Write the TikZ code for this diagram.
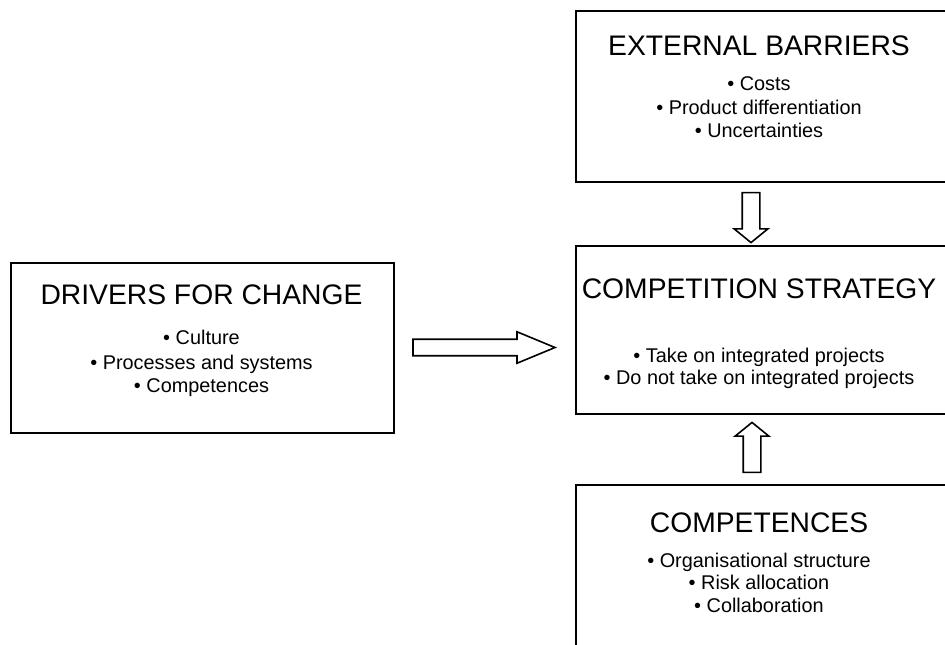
\documentclass[tikz,border=0pt]{standalone}
\usepackage{fontspec}
\setmainfont{Liberation Sans}
\usetikzlibrary{shapes.arrows}

\tikzset{every picture/.style={line width=0.75pt}}
\tikzset{
  frame/.style={draw, line width=1.4pt, anchor=north west, inner sep=0pt},
  heading/.style={anchor=base, inner sep=0.75pt, font=\fontsize{21.2}{25}\selectfont},
  points/.style={anchor=base, inner sep=0.75pt, font=\fontsize{14.9}{17.6}\selectfont},
  hollow/.style={draw, single arrow, line width=1.2pt, fill=white}
}

\begin{document}
\begin{tikzpicture}[x=0.75pt,y=0.75pt,yscale=-1,xscale=1]
\useasboundingbox (0,0) rectangle (945,644);
\clip (0,0) rectangle (945,644);

%Shape: Rectangle [id:barriers] 
\node [frame, minimum width=279pt, minimum height=128.25pt] (barriers) at (575,10) {};
%Shape: Rectangle [id:strategy] 
\node [frame, minimum width=279pt, minimum height=126pt] (strategy) at (575,245) {};
%Shape: Rectangle [id:competences] 
\node [frame, minimum width=279pt, minimum height=132pt] (competences) at (575,484) {};
%Shape: Rectangle [id:drivers] 
\node [frame, minimum width=287.25pt, minimum height=127.5pt] (drivers) at (10,262) {};

%Shape: Right Arrow [id:toStrategy] 
\node [hollow, inner sep=5.6pt, minimum height=106.5pt, single arrow head extend=5.6pt, single arrow tip angle=45] (toStrategy) at (474,347.5) {};
%Shape: Down Arrow [id:fromBarriers] 
\node [hollow, inner sep=6pt, shape border rotate=270, minimum height=37.5pt, single arrow head extend=6pt, single arrow tip angle=101.8] (fromBarriers) at (751,214) {};
%Shape: Up Arrow [id:fromCompetences] 
\node [hollow, inner sep=6pt, shape border rotate=90, minimum height=37.5pt, single arrow head extend=6pt, single arrow tip angle=101.8] (fromCompetences) at (752,451) {};

% Text Node
\draw (759,55) node [heading] (barriersTitle) {EXTERNAL BARRIERS};
% Text Node
\draw (759,90) node [points] (costs) {• Costs};
% Text Node
\draw (759,114) node [points] (differentiation) {• Product differentiation};
% Text Node
\draw (759,137) node [points] (uncertainties) {• Uncertainties};
% Text Node
\draw (759,298) node [heading] (strategyTitle) {COMPETITION STRATEGY};
% Text Node
\draw (759,362) node [points] (takeOn) {• Take on integrated projects};
% Text Node
\draw (759,384) node [points] (notTakeOn) {• Do not take on integrated projects};
% Text Node
\draw (759,532) node [heading] (competencesTitle) {COMPETENCES};
% Text Node
\draw (759,567) node [points] (structure) {• Organisational structure};
% Text Node
\draw (759,589) node [points] (allocation) {• Risk allocation};
% Text Node
\draw (759,612) node [points] (collaboration) {• Collaboration};
% Text Node
\draw (201.5,304) node [heading] (driversTitle) {DRIVERS FOR CHANGE};
% Text Node
\draw (201.5,344) node [points] (culture) {• Culture};
% Text Node
\draw (201.5,369) node [points] (processes) {• Processes and systems};
% Text Node
\draw (201.5,392) node [points] (driversCompetences) {• Competences};
\end{tikzpicture}
\end{document}
